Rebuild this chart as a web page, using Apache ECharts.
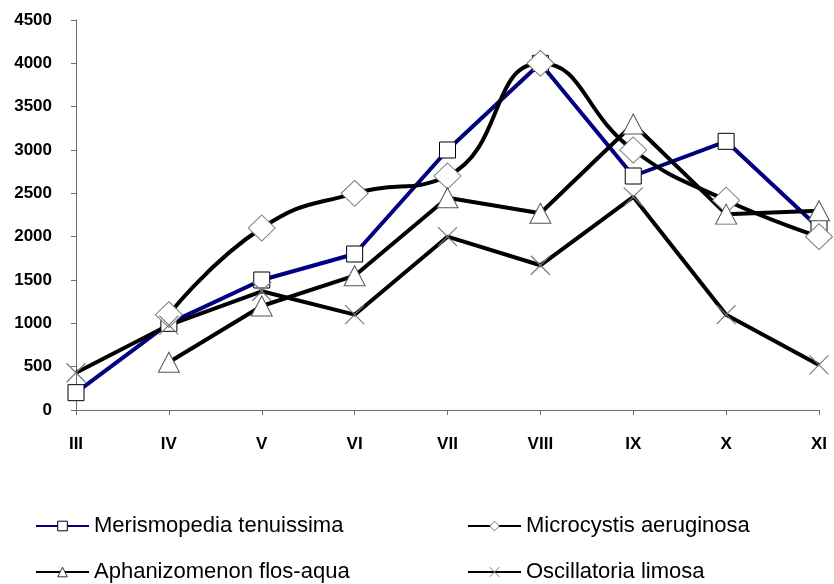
<!DOCTYPE html>
<html>
<head>
<meta charset="utf-8">
<script src="https://cdn.jsdelivr.net/npm/echarts@6/dist/echarts.min.js"></script>
<style>
html,body{margin:0;padding:0;background:#fff;}
#c{width:834px;height:584px;}
</style>
</head>
<body>
<div id="c"></div>
<script>
const months = ['III','IV','V','VI','VII','VIII','IX','X','XI'];
const merismopedia = [200, 1000, 1500, 1800, 3000, 4000, 2700, 3100, 2100];
const microcystis = [null, 1100, 2100, 2500, 2700, 4000, 3000, 2420, 2000];
const aphanizomenon = [null, 550, 1200, 1550, 2450, 2270, 3300, 2260, 2300];
const oscillatoria = [430, 980, 1370, 1100, 2000, 1670, 2460, 1100, 520];
const names = ['Merismopedia tenuissima','Microcystis aeruginosa','Aphanizomenon flos-aqua','Oscillatoria limosa'];

const FONT = '"Liberation Sans", Arial, sans-serif';
const chart = echarts.init(document.getElementById('c'), null, {renderer:'canvas'});

function legend(name, left, top, border){
  return {
    data:[name], left:left, top:top, orient:'horizontal',
    itemWidth:53, itemHeight:12, padding:0, selectedMode:false,
    lineStyle:{width:2},
    itemStyle:{color:'#fff', borderColor:border, borderWidth:1},
    textStyle:{fontFamily:FONT, fontSize:22, color:'#000', lineHeight:24}
  };
}

const xPath = 'path://M0,0L10,10M10,0L0,10';

chart.setOption({
  animation:false,
  backgroundColor:'#fff',
  grid:{left:76, right:15, top:20, bottom:174, containLabel:false},
  legend:[
    legend(names[0], 35, 514, '#000'),
    legend(names[1], 467, 514, '#7a7a7a'),
    legend(names[2], 35, 560, '#333'),
    legend(names[3], 467, 560, '#7a7a7a')
  ],
  xAxis:{
    type:'category', data:months, boundaryGap:false,
    axisLine:{lineStyle:{color:'#6b6b6b', width:1}},
    axisTick:{show:true, length:5, lineStyle:{color:'#6b6b6b'}},
    axisLabel:{fontFamily:FONT, fontSize:17, fontWeight:'bold', color:'#000', margin:26},
    splitLine:{show:false}
  },
  yAxis:{
    type:'value', min:0, max:4500, interval:500,
    axisLine:{show:true, lineStyle:{color:'#6b6b6b', width:1}},
    axisTick:{show:true, length:5, lineStyle:{color:'#6b6b6b'}},
    axisLabel:{fontFamily:FONT, fontSize:17, fontWeight:'bold', color:'#000', margin:24,
      formatter:function(v){return String(v);}},
    splitLine:{show:false}
  },
  series:[
    {
      name:names[0], type:'line', data:merismopedia,
      symbol:'rect', symbolSize:16,
      lineStyle:{color:'#000080', width:4},
      itemStyle:{color:'#fff', borderColor:'#000', borderWidth:1}
    },
    {
      name:names[1], type:'line', data:microcystis, smooth:0.5,
      symbol:'diamond', symbolSize:[27,26],
      lineStyle:{color:'#000', width:4},
      itemStyle:{color:'#fff', borderColor:'#7a7a7a', borderWidth:1}
    },
    {
      name:names[2], type:'line', data:aphanizomenon,
      symbol:'triangle', symbolSize:[21,20],
      lineStyle:{color:'#000', width:4},
      itemStyle:{color:'#fff', borderColor:'#555', borderWidth:1}
    },
    {
      name:names[3], type:'line', data:oscillatoria,
      symbol:xPath, symbolSize:19,
      lineStyle:{color:'#000', width:4},
      itemStyle:{color:'#fff', borderColor:'#7a7a7a', borderWidth:1.2}
    }
  ]
});
</script>
</body>
</html>
